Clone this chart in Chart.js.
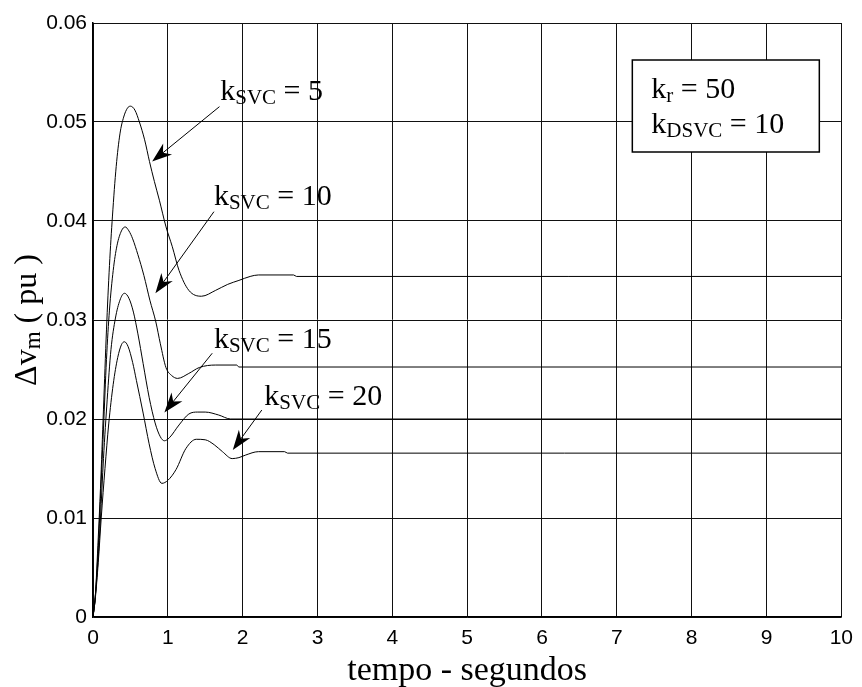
<!DOCTYPE html>
<html>
<head>
<meta charset="utf-8">
<script src="https://cdn.jsdelivr.net/npm/chart.js@4.4.1/dist/chart.umd.min.js"></script>
<style>
  html, body { margin: 0; padding: 0; background: #fff; }
  #wrap { width: 862px; height: 687px; }
</style>
</head>
<body>
<div id="wrap"><canvas id="grafico" width="862" height="687"></canvas></div>
<script>
// Dados: tempo (s) e desvio de tensão (pu) para cada ganho kSVC
const tempo5 = [0, 0.03, 0.07, 0.1, 0.14, 0.18, 0.22, 0.26, 0.31, 0.36, 0.41, 0.46, 0.5, 0.56, 0.62, 0.69, 0.755, 0.82, 0.887, 0.976, 1.06, 1.15, 1.28, 1.45, 1.64, 1.8, 1.95, 2.1, 2.21, 2.68, 2.72, 10];
const dv5 = [0, 0.002, 0.008, 0.013, 0.021, 0.029, 0.0355, 0.0405, 0.0455, 0.0488, 0.0505, 0.0514, 0.0516, 0.0512, 0.0500, 0.0482, 0.0460, 0.0440, 0.0421, 0.0394, 0.0374, 0.0350, 0.0330, 0.0324, 0.0330, 0.0336, 0.0340, 0.0344, 0.03455, 0.03455, 0.0344, 0.0344];

const tempo10 = [0, 0.03, 0.07, 0.1, 0.14, 0.18, 0.22, 0.27, 0.32, 0.38, 0.43, 0.48, 0.53, 0.6, 0.68, 0.76, 0.84, 0.9, 0.975, 1.05, 1.13, 1.28, 1.42, 1.64, 1.92, 1.95, 10];
const dv10 = [0, 0.002, 0.007, 0.012, 0.019, 0.026, 0.031, 0.035, 0.0375, 0.0390, 0.0394, 0.0390, 0.0382, 0.0366, 0.0345, 0.0320, 0.0298, 0.0276, 0.0252, 0.0244, 0.0241, 0.0246, 0.0252, 0.02545, 0.02545, 0.02525, 0.02525];

const tempo15 = [0, 0.03, 0.07, 0.1, 0.14, 0.19, 0.24, 0.3, 0.36, 0.42, 0.48, 0.54, 0.6, 0.67, 0.75, 0.83, 0.9, 0.954, 1.02, 1.15, 1.28, 1.4, 1.5, 1.68, 1.84, 10];
const dv15 = [0, 0.002, 0.006, 0.010, 0.016, 0.022, 0.027, 0.0302, 0.0320, 0.0327, 0.0322, 0.0308, 0.0286, 0.0256, 0.0222, 0.0196, 0.0182, 0.0178, 0.0181, 0.0194, 0.0205, 0.0207, 0.0207, 0.0204, 0.0200, 0.0200];

const tempo20 = [0, 0.03, 0.07, 0.11, 0.16, 0.21, 0.27, 0.33, 0.38, 0.42, 0.47, 0.53, 0.58, 0.67, 0.75, 0.83, 0.92, 1.0, 1.11, 1.24, 1.38, 1.5, 1.62, 1.73, 1.86, 1.95, 2.04, 2.21, 2.56, 2.6, 10];
const dv20 = [0, 0.0018, 0.0055, 0.010, 0.015, 0.0195, 0.0235, 0.0262, 0.0275, 0.0278, 0.0273, 0.0257, 0.0239, 0.0206, 0.0175, 0.0150, 0.0135, 0.0138, 0.0149, 0.0170, 0.01795, 0.0179, 0.0174, 0.0167, 0.0160, 0.0161, 0.01636, 0.0167, 0.0167, 0.01655, 0.01655];

const ganhos = ['5', '10', '15', '20'];
const xTicks = [0, 1, 2, 3, 4, 5, 6, 7, 8, 9, 10];
const yTicks = [0, 0.01, 0.02, 0.03, 0.04, 0.05, 0.06];
const yTickLabels = ['0', '0.01', '0.02', '0.03', '0.04', '0.05', '0.06'];

// Monta os pontos (x, y) de cada curva
function pontos(t, v) {
    return t.map((ti, i) => ({ x: ti, y: v[i] }));
}

const series = [pontos(tempo5, dv5), pontos(tempo10, dv10), pontos(tempo15, dv15), pontos(tempo20, dv20)];

// Posição dos rótulos e setas (em unidades dos eixos)
const setas = [
    { rotulo: [1.70, 0.0522], de: [1.69, 0.05155], ate: [0.79, 0.0460] },
    { rotulo: [1.616, 0.0416], de: [1.616, 0.04094], ate: [0.834, 0.0327] },
    { rotulo: [1.616, 0.02717], de: [1.593, 0.02664], ate: [0.954, 0.02066] },
    { rotulo: [2.29, 0.02141], de: [2.256, 0.02091], ate: [1.868, 0.01687] }
];

const SERIF = '"Liberation Serif", "Times New Roman", serif';
const SANS = '"Liberation Sans", Arial, sans-serif';

// Escreve texto com subscrito: partes = [[texto, subscrito?], ...]
function textoSub(ctx, partes, x, y, tam, tamSub, desloc) {
    let cx = x;
    partes.forEach(p => {
        ctx.font = (p[1] ? tamSub : tam) + 'px ' + SERIF;
        ctx.fillText(p[0], cx, y + (p[1] ? desloc : 0));
        cx += ctx.measureText(p[0]).width;
    });
    return cx - x;
}

function larguraSub(ctx, partes, tam, tamSub) {
    let w = 0;
    partes.forEach(p => {
        ctx.font = (p[1] ? tamSub : tam) + 'px ' + SERIF;
        w += ctx.measureText(p[0]).width;
    });
    return w;
}

function seta(ctx, x0, y0, x1, y1) {
    const dx = x1 - x0, dy = y1 - y0;
    const len = Math.hypot(dx, dy);
    const ux = dx / len, uy = dy / len;
    const nx = -uy, ny = ux;
    const L = 20, W = 7;
    ctx.beginPath();
    ctx.moveTo(x0, y0);
    ctx.lineTo(x1 - ux * L * 0.6, y1 - uy * L * 0.6);
    ctx.stroke();
    ctx.beginPath();
    ctx.moveTo(x1, y1);
    ctx.lineTo(x1 - ux * L + nx * W, y1 - uy * L + ny * W);
    ctx.lineTo(x1 - ux * L * 0.7, y1 - uy * L * 0.7);
    ctx.lineTo(x1 - ux * L - nx * W, y1 - uy * L - ny * W);
    ctx.closePath();
    ctx.fill();
}

const anotacoes = {
    id: 'anotacoes',
    afterDraw(chart) {
        const ctx = chart.ctx;
        const sx = chart.scales.x, sy = chart.scales.y;
        const area = chart.chartArea;
        ctx.save();
        ctx.fillStyle = '#000';
        ctx.strokeStyle = '#000';
        ctx.lineWidth = 1;
        ctx.textBaseline = 'alphabetic';
        ctx.textAlign = 'left';

        // rótulos kSVC com setas
        setas.forEach((s, i) => {
            textoSub(ctx, [['k', false], ['SVC', true], [' = ' + ganhos[i], false]],
                sx.getPixelForValue(s.rotulo[0]), sy.getPixelForValue(s.rotulo[1]), 30, 21, 4);
            seta(ctx, sx.getPixelForValue(s.de[0]), sy.getPixelForValue(s.de[1]),
                sx.getPixelForValue(s.ate[0]), sy.getPixelForValue(s.ate[1]));
        });

        // caixa com os parâmetros
        const bx = area.right - 209, by = area.top + 37, bw = 187, bh = 92;
        ctx.fillStyle = '#fff';
        ctx.fillRect(bx, by, bw, bh);
        ctx.lineWidth = 1.5;
        ctx.strokeRect(bx, by, bw, bh);
        ctx.fillStyle = '#000';
        textoSub(ctx, [['k', false], ['r', true], [' = 50', false]], bx + 19, by + 38, 30, 21, 4);
        textoSub(ctx, [['k', false], ['DSVC', true], [' = 10', false]], bx + 19, by + 73, 30, 21, 4);

        // título do eixo x
        ctx.font = '34px ' + SERIF;
        ctx.textAlign = 'center';
        ctx.fillText('tempo - segundos', (area.left + area.right) / 2, 680);

        // título do eixo y (rotacionado)
        ctx.textAlign = 'left';
        const partesY = [['\u0394v', false], ['m', true], [' ( pu )', false]];
        const wy = larguraSub(ctx, partesY, 32, 23);
        ctx.translate(36, (area.top + area.bottom) / 2 + wy / 2);
        ctx.rotate(-Math.PI / 2);
        textoSub(ctx, partesY, 0, 0, 32, 23, 4);
        ctx.restore();
    }
};

const cfg = {
    type: 'line',
    data: {
        datasets: series.map((d, i) => ({
            label: 'kSVC = ' + ganhos[i],
            data: d,
            borderColor: '#000',
            borderWidth: 1,
            pointRadius: 0,
            fill: false,
            cubicInterpolationMode: 'monotone'
        }))
    },
    options: {
        responsive: false,
        animation: false,
        layout: { padding: { top: 23, right: 14, left: 0, bottom: 0 } },
        plugins: {
            legend: { display: false },
            tooltip: { enabled: false }
        },
        scales: {
            x: {
                type: 'linear',
                min: 0,
                max: 10,
                afterBuildTicks: s => { s.ticks = xTicks.map(v => ({ value: v })); },
                afterFit: s => { s.height = 70; },
                grid: { color: '#111', lineWidth: 1, drawTicks: false },
                border: { color: '#000', width: 1.5 },
                ticks: {
                    color: '#000',
                    padding: 9,
                    maxRotation: 0,
                    font: { family: SANS, size: 21 },
                    callback: v => String(v)
                }
            },
            y: {
                type: 'linear',
                min: 0,
                max: 0.06,
                afterBuildTicks: s => { s.ticks = yTicks.map(v => ({ value: v })); },
                afterFit: s => { s.width = 93; },
                grid: { color: '#111', lineWidth: 1, drawTicks: false },
                border: { color: '#000', width: 1.5 },
                ticks: {
                    color: '#000',
                    padding: 6,
                    font: { family: SANS, size: 21 },
                    callback: (v, i) => yTickLabels[i]
                }
            }
        }
    },
    plugins: [anotacoes]
};

new Chart(document.getElementById('grafico'), cfg);
</script>
</body>
</html>
